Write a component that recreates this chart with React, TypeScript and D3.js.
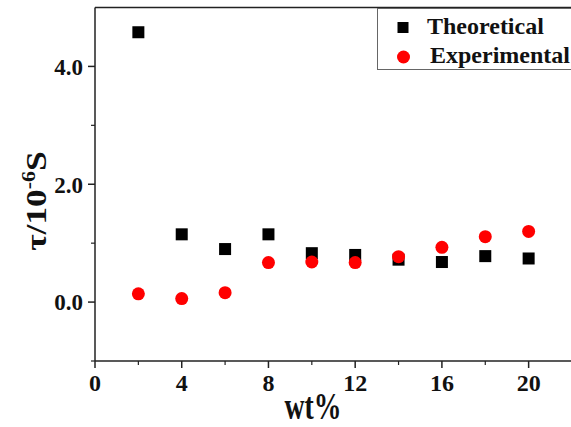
import React from 'react';
import * as d3 from 'd3';

const W = 571;
const H = 427;

// wt% values shared by both series
const wtPercent = [2, 4, 6, 8, 10, 12, 14, 16, 18, 20];
// tau / 1e-6 s
const theoretical = [4.58, 1.15, 0.9, 1.15, 0.83, 0.8, 0.72, 0.68, 0.78, 0.74];
const experimental = [0.14, 0.06, 0.16, 0.67, 0.68, 0.67, 0.77, 0.93, 1.11, 1.2];

const xMajorTicks = [0, 4, 8, 12, 16, 20];
const xMinorTicks = [2, 6, 10, 14, 18, 22];
const yMajorTicks = [0, 2, 4];
const yMinorTicks = [-1, 1, 3];

const legendLabels = ['Theoretical', 'Experimental'];

const FONT = '"Liberation Serif", "Times New Roman", serif';
const AXIS_COLOR = '#222';

const App: React.FC = () => {
  const x = d3.scaleLinear().domain([0, 22]).range([95, 572]);
  const y = d3.scaleLinear().domain([-1, 5]).range([361, 7.5]);

  const [x0, x1] = x.range();
  const [yBottom, yTop] = y.range();

  const squareSize = 12;
  const circleR = 6.5;

  return (
    <svg
      width={W}
      height={H}
      style={{ position: 'fixed', left: 0, top: 0, background: '#fff' }}
      fontFamily={FONT}
      fontWeight="bold"
    >
      {/* frame: left, bottom and top lines (right side is cut off) */}
      <line x1={x0} y1={yTop} x2={x0} y2={yBottom} stroke={AXIS_COLOR} strokeWidth={1.5} />
      <line x1={x0} y1={yBottom} x2={x1} y2={yBottom} stroke={AXIS_COLOR} strokeWidth={1.5} />
      <line x1={x0} y1={yTop} x2={x1} y2={yTop} stroke={AXIS_COLOR} strokeWidth={1.5} />

      {/* x ticks */}
      {xMajorTicks.map(t => (
        <g key={'xM' + t}>
          <line x1={x(t)} y1={yBottom} x2={x(t)} y2={yBottom + 7} stroke={AXIS_COLOR} strokeWidth={1.5} />
          <text x={x(t)} y={391} textAnchor="middle" fontSize={24} fill="#111">
            {t}
          </text>
        </g>
      ))}
      {xMinorTicks.map(t => (
        <line key={'xm' + t} x1={x(t)} y1={yBottom} x2={x(t)} y2={yBottom + 4} stroke={AXIS_COLOR} strokeWidth={1.2} />
      ))}

      {/* y ticks */}
      {yMajorTicks.map(t => (
        <g key={'yM' + t}>
          <line x1={x0 - 7} y1={y(t)} x2={x0} y2={y(t)} stroke={AXIS_COLOR} strokeWidth={1.5} />
          <text x={83} y={y(t)} dy="0.36em" textAnchor="end" fontSize={23} fill="#111">
            {d3.format('.1f')(t)}
          </text>
        </g>
      ))}
      {yMinorTicks.map(t => (
        <line key={'ym' + t} x1={x0 - 4} y1={y(t)} x2={x0} y2={y(t)} stroke={AXIS_COLOR} strokeWidth={1.2} />
      ))}

      {/* axis titles */}
      <text
        transform="translate(313,419) scale(0.75,1.05)"
        textAnchor="middle"
        fontSize={37}
        fill="#111"
      >
        wt%
      </text>
      <text
        transform="translate(46,201) rotate(-90) scale(1.22,1)"
        textAnchor="middle"
        fontSize={29}
        fill="#111"
      >
        τ/10
        <tspan fontSize={18} dy={-11}>-6</tspan>
        <tspan dy={11}>S</tspan>
      </text>

      {/* data */}
      {wtPercent.map((w, i) => (
        <rect
          key={'t' + i}
          x={x(w) - squareSize / 2}
          y={y(theoretical[i]) - squareSize / 2}
          width={squareSize}
          height={squareSize}
          fill="#000"
        />
      ))}
      {wtPercent.map((w, i) => (
        <circle key={'e' + i} cx={x(w)} cy={y(experimental[i])} r={circleR} fill="#ff0000" />
      ))}

      {/* legend */}
      <rect x={377.5} y={8.5} width={210} height={61} fill="#fff" stroke="#666" strokeWidth={1} />
      <rect x={403 - 5.5} y={27.5 - 5.5} width={11} height={11} fill="#000" />
      <text x={427} y={34} fontSize={24} fill="#111">
        {legendLabels[0]}
      </text>
      <circle cx={403.5} cy={57} r={6.5} fill="#ff0000" />
      <text x={430} y={63} fontSize={24} fill="#111">
        {legendLabels[1]}
      </text>
    </svg>
  );
};

export default App;
